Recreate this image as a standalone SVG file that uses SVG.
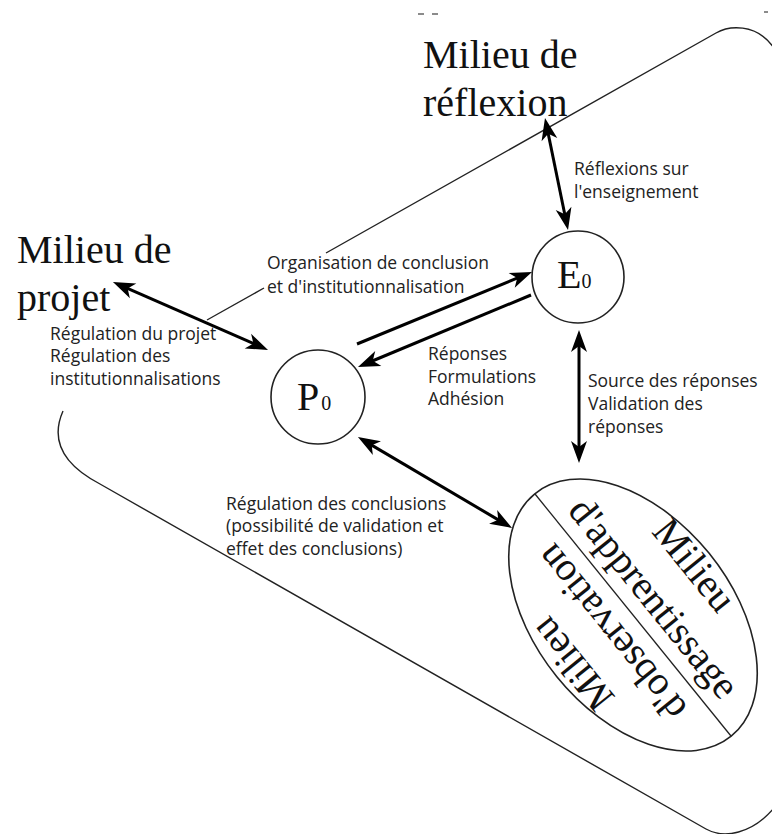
<svg xmlns="http://www.w3.org/2000/svg" width="772" height="834" viewBox="0 0 772 834">
<style>
.serif{font-family:"Liberation Serif","Times New Roman",serif;font-size:40px;fill:#111}
.sans{font-family:"Open Sans","Liberation Sans",sans-serif;font-size:17.5px;fill:#222}
.outline{fill:none;stroke:#222;stroke-width:1.4}
.node{fill:#fff;stroke:#222;stroke-width:1.6}
.arr{fill:none;stroke:#000;stroke-width:3}
</style>
<defs>
<marker id="ah" viewBox="-24 -9 26 18" refX="-9" refY="0" markerWidth="26" markerHeight="18" markerUnits="userSpaceOnUse" orient="auto-start-reverse">
<path d="M0,0 L-22,-8 L-16,0 L-22,8 Z" fill="#000"/>
</marker>
</defs>
<rect width="772" height="834" fill="#fff"/>

<g id="frame">
<path class="outline" d="M207,320 L264,288"/>
<path class="outline" d="M326,253 L716,33 C728,26 756,22 774,48"/>
<path class="outline" d="M63,411 C52,436 58,462 100,484 L706,829 C724,839 752,834 774,808"/>
<path d="M418,14 L424,14 M432,14 L438,14 M764,12 L768,12" stroke="#666" stroke-width="1.5"/>
</g>

<g id="milieu-reflexion">
<text class="serif" x="423" y="68">Milieu de</text>
<text class="serif" x="423" y="116">réflexion</text>
</g>

<g id="milieu-projet">
<text class="serif" x="17" y="263">Milieu de</text>
<text class="serif" x="17" y="311">projet</text>
</g>

<g id="E0">
<circle class="node" cx="578" cy="277" r="46"/>
<text class="serif" x="557" y="288">E<tspan font-size="20">0</tspan></text>
</g>

<g id="P0">
<circle class="node" cx="318" cy="397" r="47"/>
<text class="serif" x="297" y="410">P<tspan font-size="20" dx="2">0</tspan></text>
</g>

<g id="milieu-apprentissage-observation">
<ellipse class="node" cx="0" cy="0" rx="156" ry="98" transform="translate(633,615) rotate(51)"/>
<line x1="-156" y1="0" x2="156" y2="0" stroke="#222" stroke-width="1.3" transform="translate(633,615) rotate(51)"/>
<g transform="translate(633,615) rotate(51)">
<text class="serif" x="0" y="-66" text-anchor="middle">Milieu</text>
<text class="serif" x="0" y="-14" text-anchor="middle">d'apprentissage</text>
</g>
<g transform="translate(633,615) rotate(231)">
<text class="serif" x="0" y="-65" text-anchor="middle">Milieu</text>
<text class="serif" x="0" y="-15" text-anchor="middle">d'observation</text>
</g>
</g>

<g id="connectors">
<line class="arr" x1="546.8" y1="126.8" x2="566.2" y2="221.2" marker-start="url(#ah)" marker-end="url(#ah)"/>
<line class="arr" x1="121.2" y1="285.6" x2="259.8" y2="346.4" marker-start="url(#ah)" marker-end="url(#ah)"/>
<line class="arr" x1="357" y1="344" x2="523.7" y2="275.4" marker-end="url(#ah)"/>
<line class="arr" x1="531" y1="295" x2="366.3" y2="363.5" marker-end="url(#ah)"/>
<line class="arr" x1="579" y1="339" x2="579" y2="454" marker-start="url(#ah)" marker-end="url(#ah)"/>
<line class="arr" x1="365.7" y1="441.6" x2="504.3" y2="523.4" marker-start="url(#ah)" marker-end="url(#ah)"/>
</g>

<g id="labels">
<text class="sans" x="574" y="175">Réflexions sur</text>
<text class="sans" x="574" y="198">l'enseignement</text>
<text class="sans" x="267" y="269">Organisation de conclusion</text>
<text class="sans" x="267" y="293">et d'institutionnalisation</text>
<text class="sans" x="428" y="360">Réponses</text>
<text class="sans" x="428" y="383">Formulations</text>
<text class="sans" x="428" y="405">Adhésion</text>
<text class="sans" x="588" y="387">Source des réponses</text>
<text class="sans" x="588" y="410">Validation des</text>
<text class="sans" x="588" y="433">réponses</text>
<text class="sans" x="50" y="340">Régulation du projet</text>
<text class="sans" x="50" y="362">Régulation des</text>
<text class="sans" x="50" y="385">institutionnalisations</text>
<text class="sans" x="226" y="510">Régulation des conclusions</text>
<text class="sans" x="226" y="532">(possibilité de validation et</text>
<text class="sans" x="226" y="555">effet des conclusions)</text>
</g>
</svg>
